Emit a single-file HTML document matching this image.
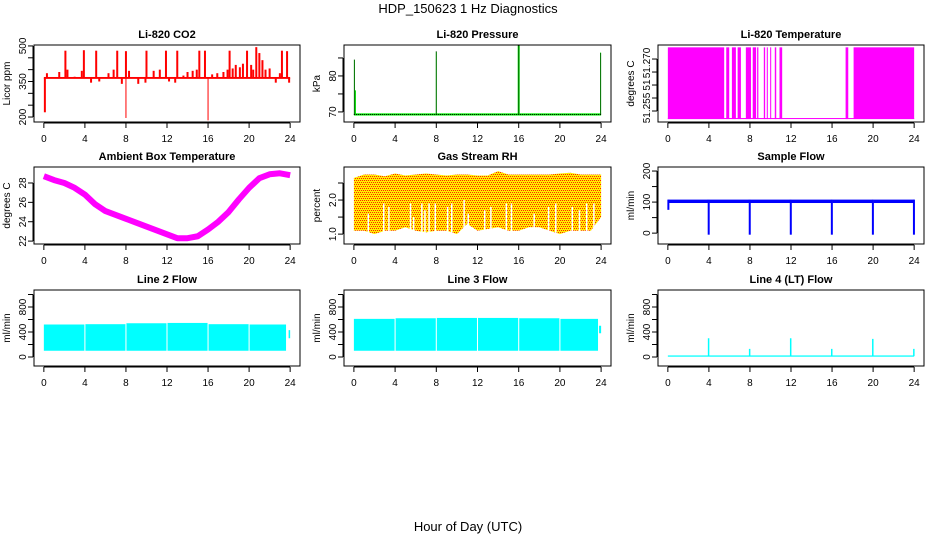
<!DOCTYPE html>
<html><head><meta charset="utf-8">
<style>
html,body{margin:0;padding:0;background:#fff;}
svg{display:block;font-family:"Liberation Sans",Arial,sans-serif;}
</style></head>
<body>
<svg id="chart" width="936" height="540" viewBox="0 0 936 540">
<defs>
<pattern id="rhpat" width="4" height="4" patternUnits="userSpaceOnUse">
<rect width="4" height="4" fill="#ffee00"/>
<rect x="0" y="0" width="1" height="1" fill="#ff2000"/>
<rect x="2" y="0" width="1" height="1" fill="#ff2000"/>
<rect x="1" y="2" width="1" height="1" fill="#ff2000"/>
<rect x="3" y="2" width="1" height="1" fill="#ff2000"/>
</pattern>
</defs>
<text x="468" y="13" text-anchor="middle" font-size="13">HDP_150623 1 Hz Diagnostics</text>
<text x="468" y="531" text-anchor="middle" font-size="13">Hour of Day (UTC)</text>
</svg>
<script>
// ---- data ----
const xTicks = [0,4,8,12,16,20,24];
const co2Base = 365;
const co2SpikeHours = [2.1,3.9,5.1,7.15,8.0,10.0,11.9,13.0,15.15,15.7,18.1,19.8,20.7,21.0,23.2,23.7];
const co2SpikeVals  = [480,482,480,480,478,480,480,480,480,480,480,480,495,470,480,478];
const co2SmallHours = [0.3,1.5,2.3,3.0,3.7,4.6,5.4,6.3,6.8,7.6,8.3,9.2,9.9,10.7,11.3,12.2,12.8,13.6,14.0,14.5,14.9,16.4,16.9,17.5,17.9,18.4,18.7,19.1,19.4,20.2,20.4,21.3,21.6,22.0,22.6,23.0,23.9];
const co2SmallVals  = [385,390,400,370,395,345,350,385,400,340,395,340,345,395,400,350,345,375,390,395,400,380,385,390,400,405,420,410,425,420,400,440,400,405,345,385,345];
const co2DipHours = [0.1,8.0,16.0];
const co2DipVals  = [220,196,186];

const presBase = 69.3;
const presSpikeHours = [0.05,8.0,16.0,23.95];
const presSpikeVals  = [84.5,86.8,88.5,86.5];

const tempBandStart = [0,5.69,6.24,6.8,7.6,8.27,8.7,9.35,9.64,9.97,10.42,10.88,17.32,18.1];
const tempBandEnd   = [5.49,5.98,6.63,7.12,8.1,8.6,8.82,9.48,9.74,10.07,10.56,11.14,17.58,24];
const tempLow = 51.2519, tempHigh = 51.2795;

const ambHours = [0,1,2,3,4,5,6,7,8,9,10,11,12,13,14,15,16,17,18,19,20,21,22,23,24];
const ambVals  = [28.7,28.3,28.0,27.5,26.8,25.8,25.1,24.7,24.3,23.9,23.5,23.1,22.7,22.3,22.3,22.5,23.2,24.0,25.0,26.3,27.5,28.5,28.9,29.0,28.8];

const rhHours = [0,1,2,3,4,5,6,7,8,9,10,11,12,13,14,15,16,17,18,19,20,21,22,23,24];
const rhTop   = [2.65,2.75,2.75,2.7,2.78,2.72,2.75,2.78,2.75,2.72,2.75,2.75,2.72,2.72,2.85,2.75,2.75,2.75,2.75,2.75,2.78,2.8,2.75,2.75,2.75];
const rhBot   = [1.1,1.1,1.0,1.1,1.1,1.2,1.1,1.05,1.1,1.1,1.0,1.3,1.1,1.15,1.2,1.1,1.1,1.2,1.2,1.1,1.0,1.1,1.1,1.1,1.5];
const rhGapHours = [1.4,2.9,3.4,5.5,5.8,6.6,6.9,7.3,7.9,9.1,9.5,10.7,11.1,12.7,13.3,14.8,15.3,17.5,18.9,19.6,21.2,21.9,22.6,23.3];
const rhGapTops  = [1.6,1.9,1.8,1.9,1.5,1.9,1.7,1.9,1.9,1.8,1.9,2.0,1.6,1.7,1.8,1.9,1.9,1.6,1.8,1.9,1.8,1.7,1.9,1.9];

const sfSegStart = [0,4,8,12,16,20];
const sfSegEnd   = [4,8,12,16,20,24];
const sfTop = 108, sfBot = 97, sfDip = -5;
const sfDipHours = [4,8,12,16,20,24];

const l2SegStart = [0,4.05,8.05,12.05,16.05,20.05];
const l2SegEnd   = [3.95,7.95,11.95,15.95,19.95,23.6];
const l2SegTop   = [520,525,540,545,525,520];
const l2Bottom = 100;
const l3SegStart = [0,4.05,8.05,12.05,16.05,20.05];
const l3SegEnd   = [3.95,7.95,11.95,15.95,19.95,23.7];
const l3SegTop   = [610,620,625,625,620,610];
const l3Bottom = 100;
const l4Base = 15;
const l4SpikeHours = [4,8,12,16,20,24];
const l4SpikeVals  = [300,130,300,130,290,130];

// ---- layout ----
const svg = document.getElementById('chart');
const NS = 'http://www.w3.org/2000/svg';
const colBox = [[34,300],[344,611],[658,924]];
const rowBox = [[45,122],[167,244],[290,366]];
function mk(tag, attrs, parent){ const e=document.createElementNS(NS,tag); for(const k in attrs) e.setAttribute(k,attrs[k]); (parent||svg).appendChild(e); return e; }

function panel(col,row,ylim,ticks,labels,title,ylab,name){
  const [x0,x1]=colBox[col],[y0,y1]=rowBox[row];
  const g=mk('g',{});
  
  
  const xs=h=>x0+(h+0.96)*(x1-x0)/25.92;
  const ys=v=>y1-(v-ylim[0])*(y1-y0)/(ylim[1]-ylim[0]);
  const plot=mk('g',{},g);
  
  
  const box=mk('rect',{x:x0,y:y0,width:x1-x0,height:y1-y0,fill:'none',stroke:'#000','stroke-width':1},g);
  
  
  const t=mk('text',{x:(x0+x1)/2,y:y0-7,'text-anchor':'middle','font-size':11,'font-weight':'bold'},g);
  t.textContent=title;
  
  
  // x axis
  const xa=mk('g',{},g);
  
  
  mk('line',{x1:xs(0),x2:xs(24),y1:y1+1,y2:y1+1,stroke:'#000'},xa);
  xTicks.forEach(h=>{
    mk('line',{x1:xs(h),x2:xs(h),y1:y1+1,y2:y1+6,stroke:'#000'},xa);
    const tx=mk('text',{x:xs(h),y:y1+20,'text-anchor':'middle','font-size':10},xa);
    tx.textContent=h;
  });
  // y axis
  const ya=mk('g',{},g);
  
  
  const lx=x0-1;
  mk('line',{x1:lx,x2:lx,y1:ys(ticks[0]),y2:ys(ticks[ticks.length-1]),stroke:'#000'},ya);
  ticks.forEach(v=>mk('line',{x1:lx-5,x2:lx,y1:ys(v),y2:ys(v),stroke:'#000'},ya));
  labels.forEach(([v,s])=>{
    const yy=ys(v);
    const tx=mk('text',{x:x0-8,y:yy,'text-anchor':'middle','font-size':10,transform:`rotate(-90 ${x0-8} ${yy})`},ya);
    tx.textContent=s;
  });
  const yl=mk('text',{x:x0-24,y:(y0+y1)/2,'text-anchor':'middle','font-size':10,transform:`rotate(-90 ${x0-24} ${(y0+y1)/2})`},g);
  yl.textContent=ylab;
  
  
  return {xs,ys,plot};
}
function vline(p,h,a,b,color,w){ return mk('line',{x1:p.xs(h),x2:p.xs(h),y1:p.ys(a),y2:p.ys(b),stroke:color,'stroke-width':w||1},p.plot); }
function band(p,h0,h1,a,b,fill){ const x=p.xs(h0),w=p.xs(h1)-x,y=p.ys(b),hh=p.ys(a)-y; return mk('rect',{x:x,y:y,width:Math.max(w,1),height:Math.max(hh,1),fill:fill},p.plot); }

// CO2
let p=panel(0,0,[179,504],[200,250,300,350,400,450,500],[[200,'200'],[350,'350'],[500,'500']],'Li-820 CO2','Licor ppm','co2');
band(p,0,24,co2Base-4,co2Base+4,'#ff0000');
co2SmallHours.forEach((h,i)=>vline(p,h,co2Base,co2SmallVals[i],'#ff0000',2));
co2SpikeHours.forEach((h,i)=>vline(p,h,co2Base,co2SpikeVals[i],'#ff0000',2));
co2DipHours.forEach((h,i)=>vline(p,h,co2Base,co2DipVals[i],'#ff0000',i===0?2:1));

// Pressure
p=panel(1,0,[67.2,88.6],[70,75,80,85],[[70,'70'],[80,'80']],'Li-820 Pressure','kPa','pressure');
band(p,0,24,presBase-0.3,presBase+0.3,'#00ee00');
mk('line',{x1:p.xs(0),x2:p.xs(24),y1:p.ys(presBase),y2:p.ys(presBase),stroke:'#000','stroke-dasharray':'1 1'},p.plot);
presSpikeHours.forEach((h,i)=>{vline(p,h,presBase,presSpikeVals[i],'#00dd00',i===2?2:1);vline(p,h,presBase,presSpikeVals[i],'#000',1).setAttribute('stroke-dasharray','1 1');});
vline(p,0.15,presBase,76,'#00dd00',1);

// Li-820 temperature
p=panel(2,0,[51.25077,51.2804],[51.255,51.26,51.265,51.27,51.275],[],'Li-820 Temperature','degrees C','li820-temperature');
[['51.255',108],['51',85],['51.270',63]].forEach(([s,y])=>{const tx=mk('text',{x:650,y:y,'text-anchor':'middle','font-size':10,transform:`rotate(-90 650 ${y})`});tx.textContent=s;});
band(p,0,24,tempLow,tempLow+0.0004,'#ff00ff');
tempBandStart.forEach((h,i)=>band(p,h,tempBandEnd[i],tempLow,tempHigh,'#ff00ff'));

// Ambient
p=panel(0,1,[21.7,29.65],[22,24,26,28],[[22,'22'],[24,'24'],[26,'26'],[28,'28']],'Ambient Box Temperature','degrees C','ambient-temperature');
mk('polyline',{points:ambHours.map((h,i)=>p.xs(h)+','+p.ys(ambVals[i])).join(' '),fill:'none',stroke:'#ff00ff','stroke-width':6,'stroke-linejoin':'round'},p.plot);

// RH
p=panel(1,1,[0.71,2.97],[1.0,1.5,2.0,2.5],[[1.0,'1.0'],[2.0,'2.0']],'Gas Stream RH','percent','gas-stream-rh');
{
  const top=rhHours.map((h,i)=>p.xs(h)+','+p.ys(rhTop[i]));
  const bot=rhHours.map((h,i)=>p.xs(h)+','+p.ys(rhBot[i])).reverse();
  mk('polygon',{points:top.concat(bot).join(' '),fill:'url(#rhpat)'},p.plot);
  rhGapHours.forEach((h,i)=>vline(p,h,0.95,rhGapTops[i],'#ffffff',1.5));
}

// Sample flow
p=panel(2,1,[-35,213],[0,50,100,150,200],[[0,'0'],[100,'100'],[200,'200']],'Sample Flow','ml/min','sample-flow');
sfSegStart.forEach((h,i)=>band(p,h+0.05,sfSegEnd[i]-0.05,sfBot,sfTop,'#0000ff'));
vline(p,0.05,75,sfTop,'#0000ff',2);
sfDipHours.forEach(h=>vline(p,h-0.02,sfDip,sfTop,'#0000ff',2));

// Line 2
const flowTicks=[0,200,400,600,800,1000], flowLab=[[0,'0'],[400,'400'],[800,'800']];
p=panel(0,2,[-144,1072],flowTicks,flowLab,'Line 2 Flow','ml/min','line2-flow');
l2SegStart.forEach((h,i)=>band(p,h,l2SegEnd[i],l2Bottom,l2SegTop[i],'#00ffff'));
band(p,23.85,24,300,430,'#00ffff');
// Line 3
p=panel(1,2,[-144,1072],flowTicks,flowLab,'Line 3 Flow','ml/min','line3-flow');
l3SegStart.forEach((h,i)=>band(p,h,l3SegEnd[i],l3Bottom,l3SegTop[i],'#00ffff'));
band(p,23.8,24,380,500,'#00ffff');
// Line 4
p=panel(2,2,[-144,1072],flowTicks,flowLab,'Line 4 (LT) Flow','ml/min','line4-flow');
band(p,0,24,l4Base-10,l4Base+10,'#00ffff');
l4SpikeHours.forEach((h,i)=>vline(p,h-0.03,l4Base,l4SpikeVals[i],'#00ffff',1.5));
</script>
</body></html>
